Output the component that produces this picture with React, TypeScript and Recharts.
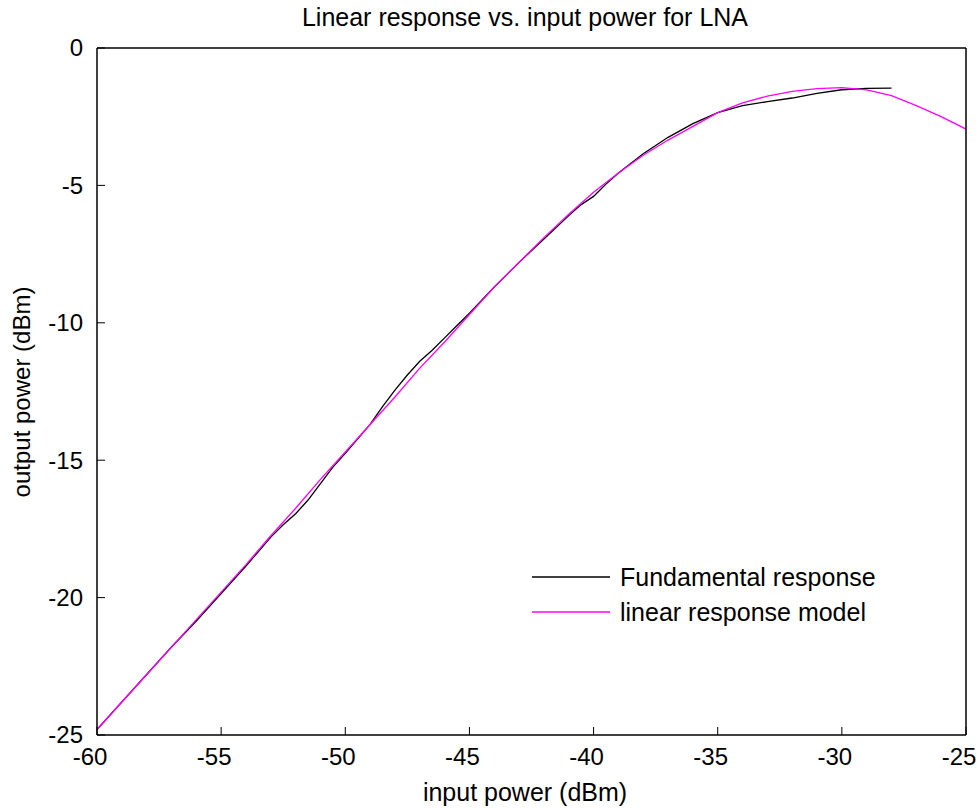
import React from "react";
import { LineChart, Line, XAxis, YAxis } from "recharts";

const modelX = [-60, -59, -58, -57, -56, -55, -54, -53, -52, -51, -50, -49, -48, -47, -46, -45, -44, -43, -42, -41, -40, -39, -38, -37, -36, -35, -34, -33, -32, -31, -30, -29, -28, -27, -26, -25];
const modelY = [-24.8, -23.8, -22.8, -21.8, -20.8, -19.8, -18.8, -17.75, -16.75, -15.7, -14.7, -13.7, -12.7, -11.65, -10.7, -9.7, -8.7, -7.8, -6.9, -6.05, -5.25, -4.55, -3.9, -3.35, -2.85, -2.35, -2.0, -1.75, -1.58, -1.48, -1.44, -1.52, -1.73, -2.1, -2.5, -2.95];

const fundX = [-60, -59, -58, -57, -56, -55, -54, -53, -52.5, -52, -51.5, -51, -50.5, -50, -49, -48.5, -48, -47.5, -47, -46.5, -46, -45.5, -45, -44, -43, -42, -41, -40.5, -40, -39.5, -39, -38, -37, -36, -35, -34, -33, -32, -31, -30, -29, -28];
const fundY = [-24.8, -23.8, -22.8, -21.8, -20.85, -19.85, -18.85, -17.8, -17.35, -16.95, -16.45, -15.85, -15.25, -14.75, -13.7, -13.05, -12.45, -11.9, -11.4, -11.0, -10.55, -10.1, -9.65, -8.7, -7.8, -6.95, -6.1, -5.7, -5.4, -4.95, -4.55, -3.85, -3.25, -2.75, -2.35, -2.1, -1.95, -1.82, -1.65, -1.52, -1.47, -1.46];

const xTicks = [-60, -55, -50, -45, -40, -35, -30, -25];
const yTicks = [-25, -20, -15, -10, -5, 0];

const seriesNames = ["Fundamental response", "linear response model"];
const seriesColors = ["#000000", "#ff00ff"];

const modelData = modelX.map((x, i) => ({ x, y: modelY[i] }));
const fundData = fundX.map((x, i) => ({ x, y: fundY[i] }));

const FONT = "'Liberation Sans', Arial, sans-serif";
const TL = 8;
const TICK_FS = 24;

const BottomTick = (p: any) => (
  <g>
    <line x1={p.x} x2={p.x} y1={p.y} y2={p.y - TL} stroke="#000" />
    <text x={p.x - 7} y={p.y + 13} dy="0.71em" textAnchor="middle" fontFamily={FONT} fontSize={TICK_FS} fill="#000">
      {p.payload.value}
    </text>
  </g>
);
const TopTick = (p: any) => (
  <line x1={p.x} x2={p.x} y1={p.y} y2={p.y + TL} stroke="#000" />
);
const LeftTick = (p: any) => (
  <g>
    <line x1={p.x} x2={p.x + TL} y1={p.y} y2={p.y} stroke="#000" />
    <text x={p.x - 14} y={p.y} dy="0.35em" textAnchor="end" fontFamily={FONT} fontSize={TICK_FS} fill="#000">
      {p.payload.value}
    </text>
  </g>
);
const RightTick = (p: any) => (
  <line x1={p.x} x2={p.x - TL} y1={p.y} y2={p.y} stroke="#000" />
);

export default function App() {
  return (
    <div style={{ position: "absolute", left: 0, top: 0, width: 980, height: 808, background: "#fff" }}>
      <LineChart
        width={980}
        height={808}
        margin={{ top: 47, right: 13, bottom: 33, left: 37 }}
        style={{ fontFamily: FONT }}
      >
        <text x={525} y={19} textAnchor="middle" dominantBaseline="middle" fontFamily={FONT} fontSize={25} fill="#000">
          Linear response vs. input power for LNA
        </text>
        <text x={525} y={794} textAnchor="middle" dominantBaseline="middle" fontFamily={FONT} fontSize={25} fill="#000">
          input power (dBm)
        </text>
        <text
          x={24}
          y={392}
          textAnchor="middle"
          dominantBaseline="middle"
          transform="rotate(-90 24 392)"
          fontFamily={FONT}
          fontSize={24}
          fill="#000"
        >
          output power (dBm)
        </text>
        <XAxis
          xAxisId="b"
          type="number"
          dataKey="x"
          domain={[-60, -25]}
          ticks={xTicks}
          allowDataOverflow
          height={40}
          tickSize={0}
          tickMargin={0}
          tick={<BottomTick />}
          axisLine={{ stroke: "#000", strokeWidth: 1.5 }}
          tickLine={false}
        />
        <XAxis
          xAxisId="t"
          orientation="top"
          type="number"
          dataKey="x"
          domain={[-60, -25]}
          ticks={xTicks}
          height={1}
          tickSize={0}
          tickMargin={0}
          tick={<TopTick />}
          axisLine={{ stroke: "#000", strokeWidth: 1.5 }}
          tickLine={false}
        />
        <YAxis
          yAxisId="l"
          type="number"
          domain={[-25, 0]}
          ticks={yTicks}
          allowDataOverflow
          width={60}
          tickSize={0}
          tickMargin={0}
          tick={<LeftTick />}
          axisLine={{ stroke: "#000", strokeWidth: 1.5 }}
          tickLine={false}
        />
        <YAxis
          yAxisId="r"
          orientation="right"
          type="number"
          domain={[-25, 0]}
          ticks={yTicks}
          width={1}
          tickSize={0}
          tickMargin={0}
          tick={<RightTick />}
          axisLine={{ stroke: "#000", strokeWidth: 1.5 }}
          tickLine={false}
        />
        <Line
          xAxisId="b"
          yAxisId="l"
          data={fundData}
          dataKey="y"
          name={seriesNames[0]}
          stroke={seriesColors[0]}
          strokeWidth={1.3}
          dot={false}
          isAnimationActive={false}
        />
        <Line
          xAxisId="b"
          yAxisId="l"
          data={modelData}
          dataKey="y"
          name={seriesNames[1]}
          stroke={seriesColors[1]}
          strokeWidth={1.3}
          dot={false}
          isAnimationActive={false}
        />
      </LineChart>
      <svg width={380} height={80} style={{ position: "absolute", left: 532, top: 560 }}>
        {seriesNames.map((name, i) => (
          <g key={name}>
            <line x1={0} x2={78} y1={17 + i * 35} y2={17 + i * 35} stroke={seriesColors[i]} strokeWidth={1.3} />
            <text x={88} y={17 + i * 35} dy="0.35em" fontFamily={FONT} fontSize={25} fill="#000">
              {name}
            </text>
          </g>
        ))}
      </svg>
    </div>
  );
}
